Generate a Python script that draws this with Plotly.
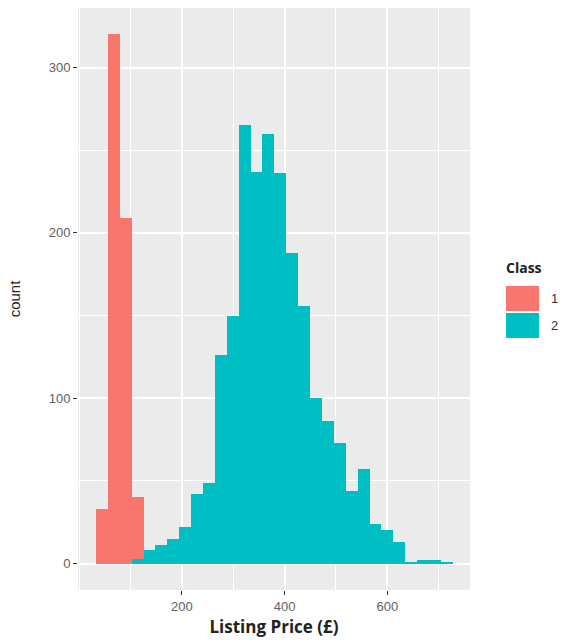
import plotly.graph_objects as go

# Histogram data (30 bins)
bin_start = 33.0
bin_width = 23.15
class_labels = ["1", "2"]
counts_class1 = [33, 320, 209, 37, 0, 0, 0, 0, 0, 0, 0, 0, 0, 0, 0,
                 0, 0, 0, 0, 0, 0, 0, 0, 0, 0, 0, 0, 0, 0, 0]
counts_class2 = [0, 0, 0, 3, 8, 11, 15, 22, 42, 49, 126, 150, 265, 237, 260,
                 236, 188, 156, 100, 86, 73, 44, 57, 24, 20, 13, 1, 2, 2, 1]
x_ticks = [200, 400, 600]
y_ticks = [0, 100, 200, 300]

colors = ["#F8766D", "#00BFC4"]
centers = [bin_start + bin_width * (i + 0.5) for i in range(len(counts_class1))]

fig = go.Figure()
# class 2 at the bottom, class 1 stacked on top (ggplot order)
fig.add_trace(go.Bar(x=centers, y=counts_class2, width=bin_width, name=class_labels[1],
                     marker=dict(color=colors[1], line=dict(width=0))))
fig.add_trace(go.Bar(x=centers, y=counts_class1, width=bin_width, name=class_labels[0],
                     marker=dict(color=colors[0], line=dict(width=0))))

axis_common = dict(showline=False, zeroline=False, gridcolor="white", gridwidth=1.6,
                   ticks="outside", ticklen=4, tickcolor="#333333", tickwidth=1,
                   automargin=False,
                   tickfont=dict(family="Liberation Sans, Arial", size=13, color="#606060"))

# manual ggplot-style legend (large keys)
shapes = []
annotations = [dict(x=1.0867, y=0.5533, xref="paper", yref="paper", xanchor="left", yanchor="middle",
                    text="<b>Class</b>", showarrow=False,
                    font=dict(family="Open Sans, Liberation Sans", size=14, color="#222222"))]
key_y = [(0.5223, 0.4794), (0.4759, 0.4330)]
for lab, col, (y1, y0) in zip(class_labels, colors, key_y):
    shapes.append(dict(type="rect", xref="paper", yref="paper", x0=1.0918, x1=1.1760,
                       y0=y0, y1=y1, fillcolor=col, line=dict(width=0), layer="above"))
    annotations.append(dict(x=1.2168, y=(y0 + y1) / 2, xref="paper", yref="paper",
                            xanchor="center", yanchor="middle", text=lab, showarrow=False,
                            font=dict(family="Liberation Sans, Arial", size=13, color="#333333")))

fig.update_layout(
    width=563, height=644,
    margin=dict(l=78, r=93, t=8, b=54),
    paper_bgcolor="white", plot_bgcolor="#EBEBEB",
    barmode="stack", bargap=0, showlegend=False,
    font=dict(family="Liberation Sans, Arial", color="#222222"),
    xaxis=dict(range=[-2, 761], tickvals=x_ticks, ticktext=[str(v) for v in x_ticks],
               minor=dict(showgrid=True, gridcolor="white", gridwidth=0.7, dtick=100, tick0=0, ticks=""),
               title=dict(text="<b>Listing Price (£)</b>", standoff=8,
                          font=dict(family="Open Sans, Liberation Sans", size=17, color="#222222")),
               **axis_common),
    yaxis=dict(range=[-16, 336], tickvals=y_ticks, ticktext=[str(v) for v in y_ticks],
               minor=dict(showgrid=True, gridcolor="white", gridwidth=0.7, dtick=50, tick0=0, ticks=""),
               title=dict(text="count", standoff=24,
                          font=dict(family="Liberation Sans, Arial", size=15, color="#222222")),
               **axis_common),
    shapes=shapes,
    annotations=annotations,
)

fig.write_html("out.html", config={"displayModeBar": False},
               post_script="document.body.style.margin='0';")
